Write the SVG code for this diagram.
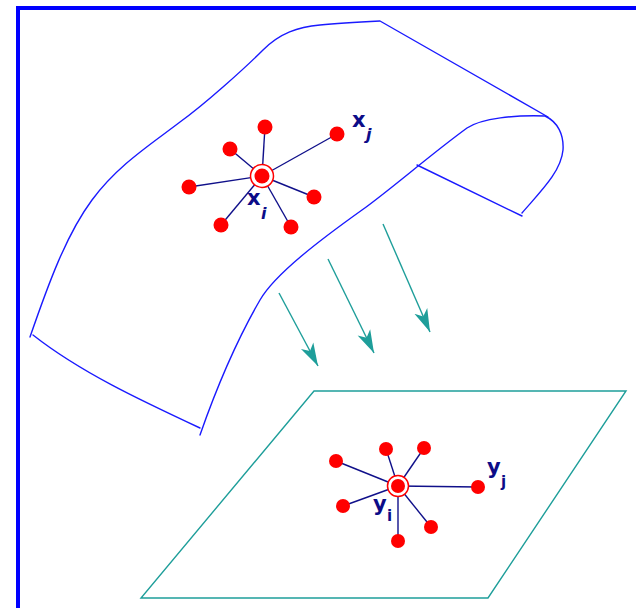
<svg xmlns="http://www.w3.org/2000/svg" width="636" height="608" viewBox="0 0 636 608">
<style>
.frame{fill:none;stroke:#0000ff;stroke-width:4}
.surf{fill:none;stroke:#1a1aff;stroke-width:1.4;stroke-linejoin:round;stroke-linecap:round}
.plane{fill:none;stroke:#1e9e9a;stroke-width:1.4}
.arr{fill:none;stroke:#1e9e9a;stroke-width:1.4}
.edge{stroke:#10108a;stroke-width:1.4}
.dot{fill:#ff0000}
.ring{fill:#ffffff;stroke:#ff0000;stroke-width:1.5}
.lbl{font-family:"DejaVu Sans",Verdana,sans-serif;font-weight:bold;fill:#0c0c88}
</style>
<defs>
<marker id="ah" markerUnits="userSpaceOnUse" markerWidth="26" markerHeight="18" viewBox="0 -9 26 18" refX="23" refY="0" orient="auto">
<path d="M23,0 L0,-7 L6,0 L0,7 Z" fill="#1e9e9a"/>
</marker>
</defs>
<rect class="frame" x="18" y="8" width="640" height="620"/>
<g id="surface">
<path class="surf" d="M30,337 C48,285 66,235 92,200 C118,165 150,145 180,122 C205,104 245,68 263,50 C280,33 298,27 320,25 C340,23 360,22 380,21 L548,117"/>
<path class="surf" d="M200,435 C214,395 234,345 260,300 C275,274 320,240 362,210 C390,190 430,155 467,128 C482,118 515,115 545,116 C558,122 564,135 563,150 C561,172 540,192 522,213"/>
<path class="surf" d="M417,165 L522,216"/>
<path class="surf" d="M33,335 C80,372 140,400 200,428"/>
</g>
<g id="plane">
<polygon class="plane" points="314,391 626,391 488,598 141,598"/>
</g>
<g id="connectors">
<line class="arr" x1="279" y1="293" x2="318" y2="366" marker-end="url(#ah)"/>
<line class="arr" x1="328" y1="259" x2="374" y2="353" marker-end="url(#ah)"/>
<line class="arr" x1="383" y1="224" x2="430" y2="332" marker-end="url(#ah)"/>
</g>
<g id="star-top">
<line class="edge" x1="262" y1="176" x2="265" y2="127"/>
<line class="edge" x1="262" y1="176" x2="337" y2="134"/>
<line class="edge" x1="262" y1="176" x2="230" y2="149"/>
<line class="edge" x1="262" y1="176" x2="189" y2="187"/>
<line class="edge" x1="262" y1="176" x2="314" y2="197"/>
<line class="edge" x1="262" y1="176" x2="221" y2="225"/>
<line class="edge" x1="262" y1="176" x2="291" y2="227"/>
<circle class="dot" cx="265" cy="127" r="7.5"/>
<circle class="dot" cx="337" cy="134" r="7.5"/>
<circle class="dot" cx="230" cy="149" r="7.5"/>
<circle class="dot" cx="189" cy="187" r="7.5"/>
<circle class="dot" cx="314" cy="197" r="7.5"/>
<circle class="dot" cx="221" cy="225" r="7.5"/>
<circle class="dot" cx="291" cy="227" r="7.5"/>
<circle class="ring" cx="262" cy="176" r="11.5"/>
<circle class="dot" cx="262" cy="176" r="7.5"/>
<text class="lbl" x="247" y="205" font-size="21">x</text>
<text class="lbl" x="261" y="219" font-size="16" font-style="italic">i</text>
<text class="lbl" x="352" y="127" font-size="21">x</text>
<text class="lbl" x="366" y="140" font-size="16" font-style="italic">j</text>
</g>
<g id="star-bottom">
<line class="edge" x1="398" y1="486" x2="336" y2="461"/>
<line class="edge" x1="398" y1="486" x2="386" y2="449"/>
<line class="edge" x1="398" y1="486" x2="424" y2="448"/>
<line class="edge" x1="398" y1="486" x2="478" y2="487"/>
<line class="edge" x1="398" y1="486" x2="343" y2="506"/>
<line class="edge" x1="398" y1="486" x2="431" y2="527"/>
<line class="edge" x1="398" y1="486" x2="398" y2="541"/>
<circle class="dot" cx="336" cy="461" r="7"/>
<circle class="dot" cx="386" cy="449" r="7"/>
<circle class="dot" cx="424" cy="448" r="7"/>
<circle class="dot" cx="478" cy="487" r="7"/>
<circle class="dot" cx="343" cy="506" r="7"/>
<circle class="dot" cx="431" cy="527" r="7"/>
<circle class="dot" cx="398" cy="541" r="7"/>
<circle class="ring" cx="398" cy="486" r="10.5"/>
<circle class="dot" cx="398" cy="486" r="7"/>
<text class="lbl" x="373" y="511" font-size="21">y</text>
<text class="lbl" x="387" y="521" font-size="15">i</text>
<text class="lbl" x="487" y="474" font-size="21">y</text>
<text class="lbl" x="501" y="487" font-size="15">j</text>
</g>
</svg>
